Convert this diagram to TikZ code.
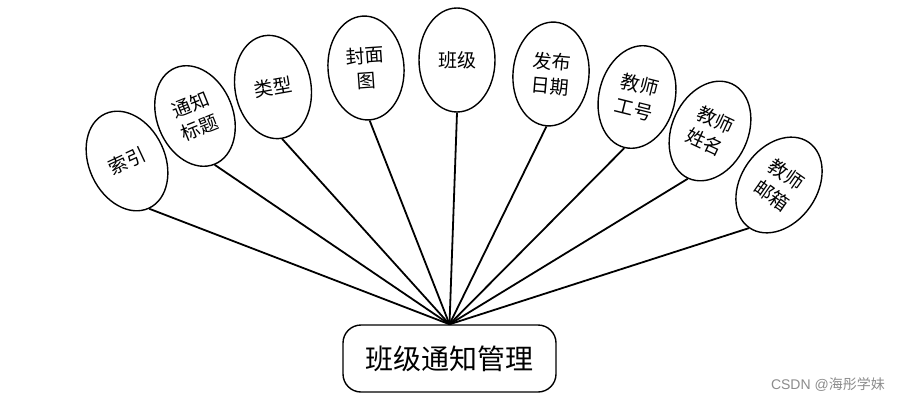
\documentclass[tikz,border=0pt]{standalone}
\usepackage{fontspec}
\newfontfamily\cjk{Noto Sans CJK SC}
\usetikzlibrary{shapes.geometric}
\begin{document}
\begin{tikzpicture}[x=1pt,y=-1pt,
  attr/.style={ellipse,draw,line width=1.4pt,minimum width=76pt,minimum height=104pt,inner sep=0pt,
    font=\cjk\fontsize{19}{25}\selectfont,align=center},
  conn/.style={line width=1.8pt},
  mainbox/.style={draw,rounded corners=18pt,line width=1.4pt,minimum width=213pt,minimum height=67pt,
    font=\cjk\fontsize{28}{32}\selectfont}]
\useasboundingbox[fill=white] (0,0) rectangle (901,404);
\node[mainbox] (box) at (449.5,358.5) {班级通知管理};
\node[attr,rotate=25] (a1) at (127,161) {索引};
\node[attr,rotate=22] (a2) at (195,116) {通知\\标题};
\node[attr,rotate=10] (a3) at (273,87) {类型};
\node[attr,rotate=4] (a4) at (366,68) {封面\\图};
\node[attr] (a5) at (457,60) {班级};
\node[attr,rotate=-5] (a6) at (551,74) {发布\\日期};
\node[attr,rotate=-14] (a7) at (637,97) {教师\\工号};
\node[attr,rotate=-25] (a8) at (710,131) {教师\\姓名};
\node[attr,rotate=-35] (a9) at (779,185) {教师\\邮箱};
\foreach \i in {1,...,9} {\draw[conn] (a\i.south) -- (box.north);}
\node[text=black!45,font=\fontspec{Liberation Sans}\fontsize{14}{16}\selectfont,anchor=east,inner sep=0pt] (wm) at (885,385) {CSDN @{\cjk 海彤学妹}};
\end{tikzpicture}
\end{document}
